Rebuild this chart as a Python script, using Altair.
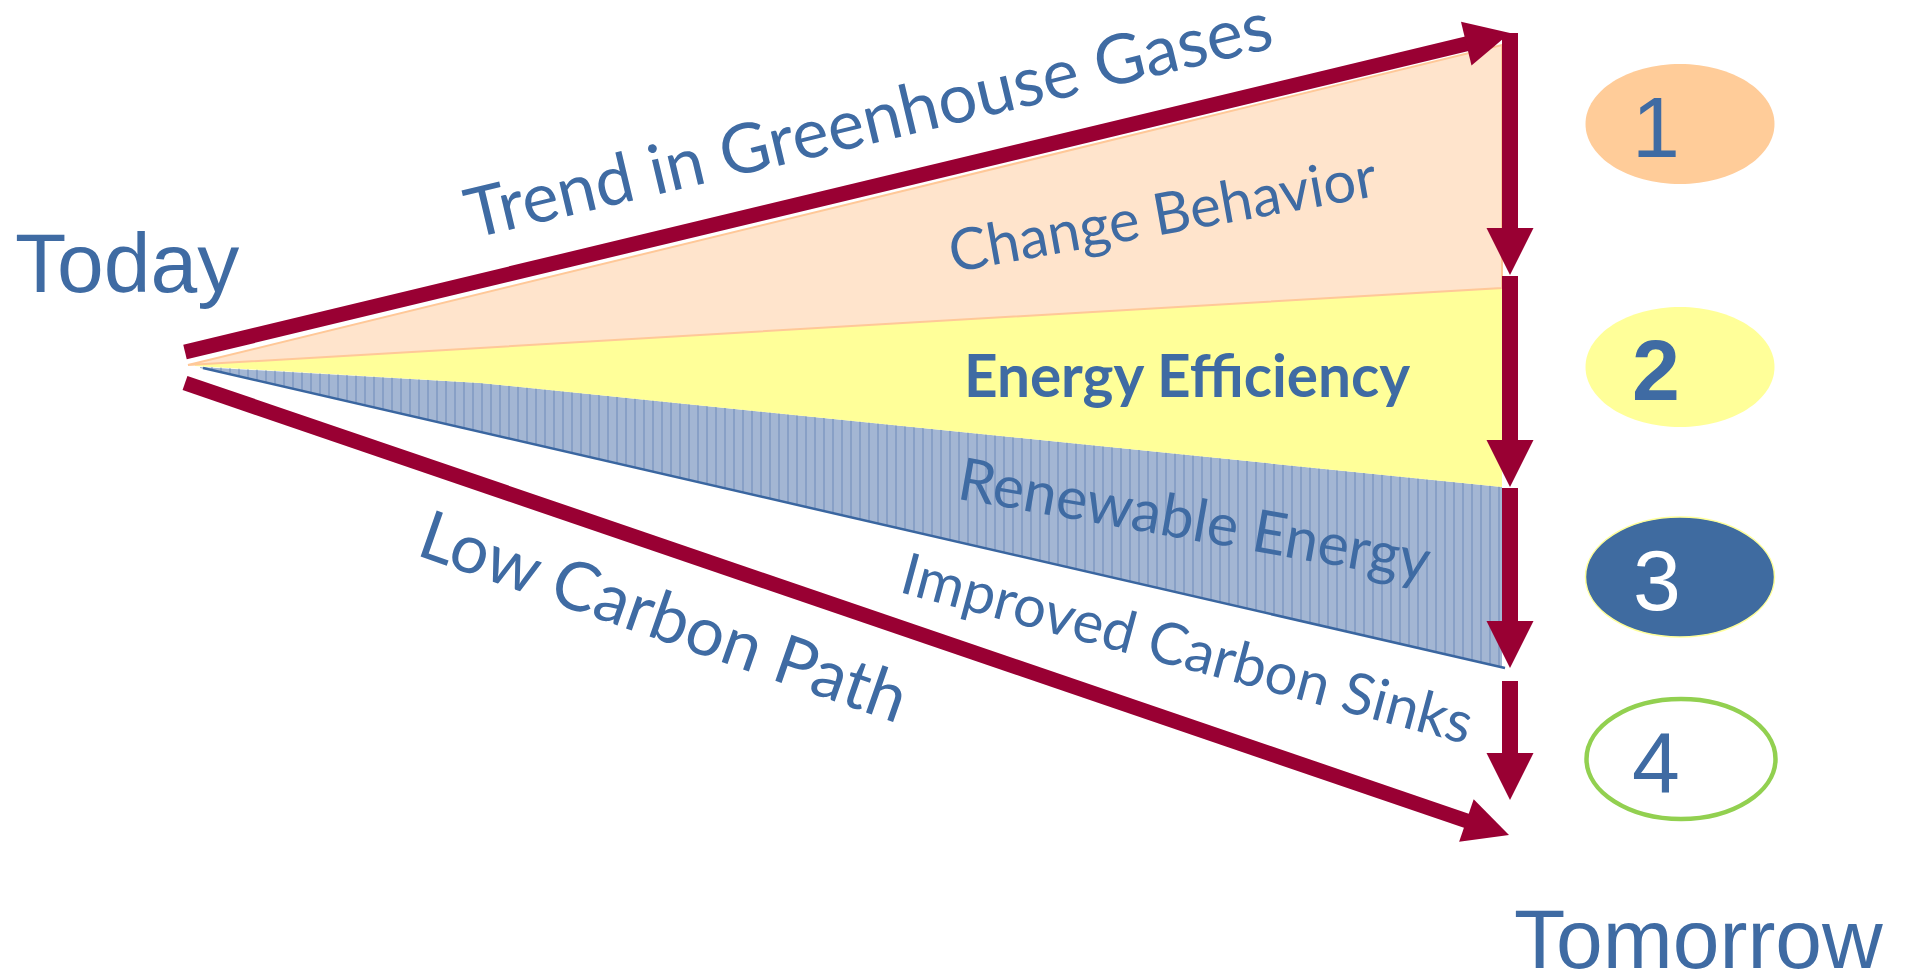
import altair as alt
import pandas as pd

# ---------------- values (pixel space, y downward) ----------------
# Wedge 1: Change Behavior (peach)
behavior_x = [188, 1502]
behavior_top = [365, 45]
behavior_bottom = [365, 288]

# Wedge 2: Energy Efficiency (yellow)
efficiency_x = [195, 480, 1502]
efficiency_top = [365, 348, 288]
efficiency_bottom = [366, 383, 487]

# Wedge 3: Renewable Energy (hatched blue)
renewable_x = [200, 480, 1502]
renewable_top = [367, 383, 487]
renewable_bottom = [368, 432, 667]

# Lower edge of the renewable wedge (Improved Carbon Sinks boundary)
sinks_edge_x = [203, 1505]
sinks_edge_y = [368, 668]

# Red arrows
trend_x = [185, 1470]
trend_y = [352, 43]
low_x = [185, 1470]
low_y = [383, 822]
diag_tip_x = [1510, 1509]
diag_tip_y = [33, 835]
diag_angle = [346.5, 18.85]

step_x = [1510, 1510, 1510, 1510]
step_top = [33, 276, 488, 681]
step_bottom = [232, 444, 626, 757]
step_tip_y = [275, 487, 668, 800]

# Numbered ellipses
ellipse_x = [1680, 1680, 1680, 1681]
ellipse_y = [124, 367, 577, 759]
digit_text = ["1", "2", "3", "4"]
digit_x = [1656, 1656, 1657, 1656]
digit_y = [157, 400, 610, 792]

# Labels along the wedges
label_text = ["Trend in Greenhouse Gases", "Change Behavior", "Renewable Energy",
              "Improved Carbon Sinks", "Low Carbon Path"]
label_x = [874, 1166, 1191, 1182, 656]
label_y = [143, 234, 540, 668, 639]
label_angle = [346.6, 349.8, 10, 15, 19.3]
label_size = [69, 58, 59, 58, 68]

# ---------------- styling ----------------
BLUE = "#3F6BA3"
RED = "#990033"
PEACH = "#FFE4CC"
PEACH_EDGE = "#FFC898"
YELLOW = "#FFFF99"
HATCH_FILL = "#A3B6D3"
HATCH_LINE = "#5277AE"

xs = alt.Scale(domain=[8, 1901], nice=False, zero=False)
ys = alt.Scale(domain=[8, 969], nice=False, zero=False, reverse=True)


def X(f="x"):
    return alt.X(f"{f}:Q", scale=xs, axis=None)


def Y(f="y"):
    return alt.Y(f"{f}:Q", scale=ys, axis=None)


def band(xv, top, bottom, **kw):
    df = pd.DataFrame({"x": xv, "y": top, "y2": bottom})
    return alt.Chart(df).mark_area(**kw).encode(x=X(), y=Y(), y2=alt.Y2("y2:Q"))


def path_line(xv, yv, **kw):
    df = pd.DataFrame({"x": xv, "y": yv, "o": list(range(len(xv)))})
    return alt.Chart(df).mark_line(**kw).encode(x=X(), y=Y(), order="o:Q")


renew_fill = band(renewable_x, renewable_top, renewable_bottom, color=HATCH_FILL, opacity=1)

hatch_x = list(range(212, 1500, 9))  # texture spacing of the hatch pattern
hatch = alt.Chart(pd.DataFrame({"x": hatch_x, "y": 360, "y2": 673})).mark_rule(
    color=HATCH_LINE, strokeWidth=1, opacity=0.65
).encode(x=X(), y=Y(), y2=alt.Y2("y2:Q"))

yellow = band(efficiency_x, efficiency_top, efficiency_bottom, color=YELLOW, opacity=1)
peach = band(behavior_x, behavior_top, behavior_bottom, color=PEACH, opacity=1,
             stroke=PEACH_EDGE, strokeWidth=2)
mask = band(sinks_edge_x, sinks_edge_y, [674, 674], color="white", opacity=1)
sinks_edge = path_line(sinks_edge_x, sinks_edge_y, color="#3A66A0", strokeWidth=2.5)

trend_line = path_line(trend_x, trend_y, color=RED, strokeWidth=15, strokeCap="butt")
low_line = path_line(low_x, low_y, color=RED, strokeWidth=15, strokeCap="butt")

steps = alt.Chart(pd.DataFrame({"x": step_x, "y": step_top, "y2": step_bottom})).mark_rule(
    color=RED, strokeWidth=16, strokeCap="butt"
).encode(x=X(), y=Y(), y2=alt.Y2("y2:Q"))

step_heads = alt.Chart(pd.DataFrame({"x": step_x, "y": step_tip_y})).mark_point(
    shape="M 0 0 L -1 -2 L 1 -2 Z", filled=True, color=RED, opacity=1, size=2209
).encode(x=X(), y=Y())

diag_heads = alt.Chart(pd.DataFrame({"x": diag_tip_x, "y": diag_tip_y, "a": diag_angle})).mark_point(
    shape="M 0 0 L -2 -1 L -2 1 Z", filled=True, color=RED, opacity=1, size=2025
).encode(x=X(), y=Y(), angle=alt.Angle("a:Q", scale=None))

K = 0.5523
R = 0.635
ELLIPSE = (
    f"M -1 0 C -1 {-K*R:.4f} {-K:.4f} {-R} 0 {-R} "
    f"C {K:.4f} {-R} 1 {-K*R:.4f} 1 0 "
    f"C 1 {K*R:.4f} {K:.4f} {R} 0 {R} "
    f"C {-K:.4f} {R} -1 {K*R:.4f} -1 0 Z"
)
ell_fill = ["#FFCC99", "#FFFF99", "#3F6BA0", "#FFFFFF"]
ell_stroke = ["#FFCC99", "#FFFF99", "#FFFF99", "#92D050"]
ell_sw = [0, 0, 1.5, 4.5]
ellipses = []
for i in range(4):
    ellipses.append(
        alt.Chart(pd.DataFrame({"x": [ellipse_x[i]], "y": [ellipse_y[i]]})).mark_point(
            shape=ELLIPSE, filled=True, fill=ell_fill[i], stroke=ell_stroke[i],
            strokeWidth=ell_sw[i], opacity=1, size=189 * 189
        ).encode(x=X(), y=Y())
    )

digit_color = [BLUE, BLUE, "#FFFFFF", BLUE]
digits = []
for i in range(4):
    digits.append(
        alt.Chart(pd.DataFrame({"x": [digit_x[i]], "y": [digit_y[i]], "t": [digit_text[i]]})).mark_text(
            font="Liberation Sans", fontSize=86, fontWeight="bold" if i == 1 else "normal",
            color=digit_color[i], align="center", baseline="alphabetic"
        ).encode(x=X(), y=Y(), text="t:N")
    )

labels = alt.Chart(pd.DataFrame({"x": label_x, "y": label_y, "t": label_text,
                                 "a": label_angle, "s": label_size})).mark_text(
    font="Lato", color=BLUE, align="center", baseline="alphabetic"
).encode(x=X(), y=Y(), text="t:N", angle=alt.Angle("a:Q", scale=None),
         size=alt.Size("s:Q", scale=None))

efficiency_label = alt.Chart(pd.DataFrame({"x": [1187], "y": [397], "t": ["Energy Efficiency"]})).mark_text(
    font="Lato", fontWeight="bold", fontSize=58.5, color=BLUE, align="center", baseline="alphabetic"
).encode(x=X(), y=Y(), text="t:N")

ends = alt.Chart(pd.DataFrame({"x": [15, 1514], "y": [292, 968], "t": ["Today", "Tomorrow"]})).mark_text(
    font="Liberation Sans", fontSize=84, color=BLUE, align="left", baseline="alphabetic"
).encode(x=X(), y=Y(), text="t:N")

chart = alt.layer(
    renew_fill, hatch, yellow, peach, mask, sinks_edge,
    trend_line, low_line, steps, step_heads, diag_heads,
    *ellipses, *digits, labels, efficiency_label, ends
).properties(
    width=1893, height=961, padding=0, background="white",
    autosize=alt.AutoSizeParams(type="none")
).configure_view(stroke=None)

chart.save("out.html", embed_options={"renderer": "svg", "actions": False})
